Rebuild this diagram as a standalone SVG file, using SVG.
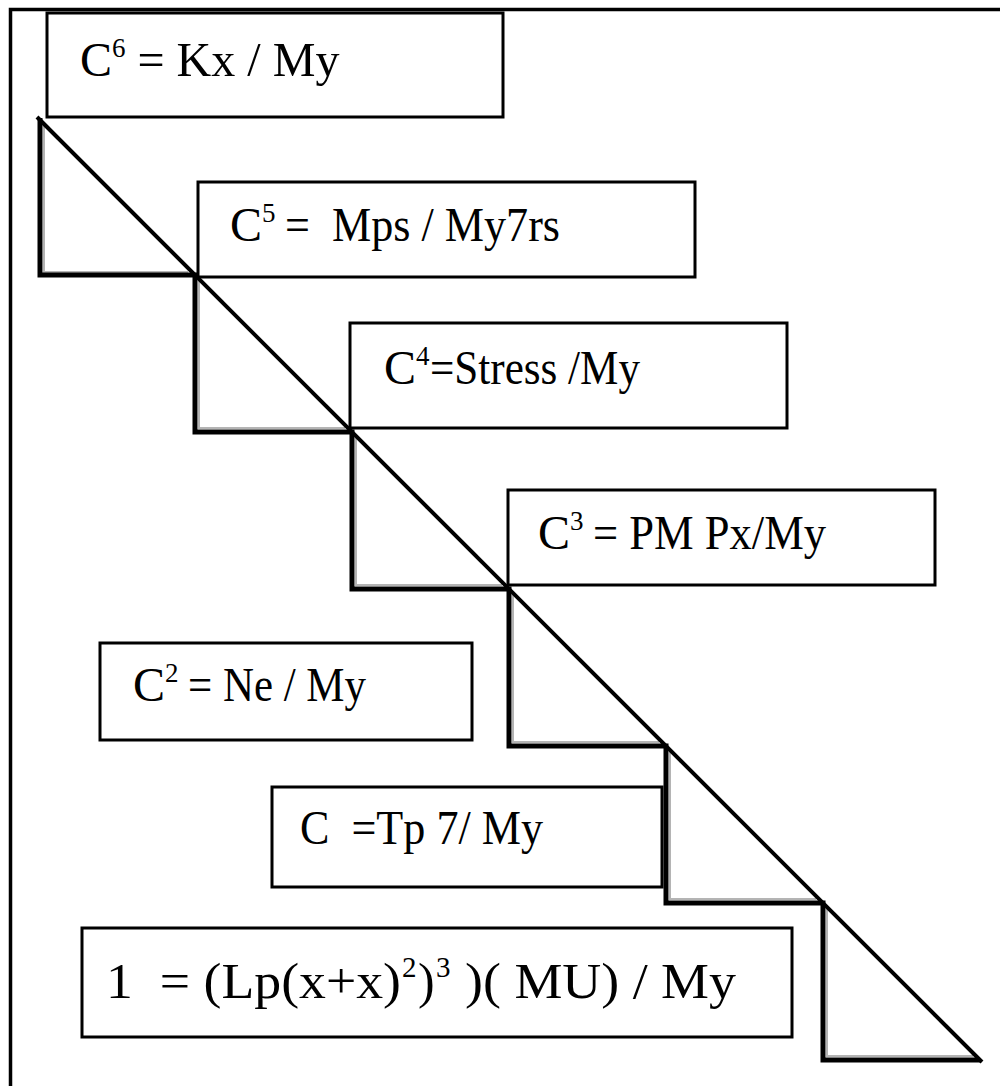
<svg xmlns="http://www.w3.org/2000/svg" width="1000" height="1086" viewBox="0 0 1000 1086">
<style>
.frame{fill:none;stroke:#000;stroke-width:3.5}
.box{fill:#fff;stroke:#000;stroke-width:3}
.stair{fill:none;stroke:#000;stroke-width:5;stroke-linejoin:miter}
.shade{fill:none;stroke:#b4b4b4;stroke-width:2}
.diag{stroke:#000;stroke-width:4}
.t{font-family:"Liberation Serif","Times New Roman",serif;font-size:48px;fill:#000}
.s{font-family:"Liberation Serif","Times New Roman",serif;font-size:27px;fill:#000}
.b{font-size:50px}
.bs{font-size:29px}
</style>
<rect x="0" y="0" width="1000" height="1086" fill="#fff"/>
<g id="frame">
<path class="frame" d="M10.5,1086 V9.5 H1000"/>
</g>
<g id="connectors">
<path class="shade" d="M44,124 V272 H188 M199,281 V428 H345 M356,438 V585 H502 M513,595 V742 H659 M670,752 V899 H816 M827,909 V1056 H973"/>
<path class="stair" d="M40,118 V275 H195 V432 H352 V589 H509 V746 H666 V903 H823 V1060 H980"/>
<line class="diag" x1="37" y1="117" x2="982" y2="1062"/>
</g>
<g id="node-c6">
<rect class="box" x="47" y="13" width="456" height="104"/>
<text class="t" x="80" y="76">C</text>
<text class="s" x="112" y="57">6</text>
<text class="t" x="137.5" y="76" textLength="202" lengthAdjust="spacingAndGlyphs">= Kx / My</text>
</g>
<g id="node-c5">
<rect class="box" x="198" y="182" width="497" height="95"/>
<text class="t" x="230" y="241">C</text>
<text class="s" x="262" y="222">5</text>
<text class="t" x="285" y="241" xml:space="preserve" textLength="275" lengthAdjust="spacingAndGlyphs">=  Mps / My7rs</text>
</g>
<g id="node-c4">
<rect class="box" x="350" y="323" width="437" height="105"/>
<text class="t" x="384" y="384">C</text>
<text class="s" x="416" y="365">4</text>
<text class="t" x="430" y="384" textLength="210" lengthAdjust="spacingAndGlyphs">=Stress /My</text>
</g>
<g id="node-c3">
<rect class="box" x="508" y="490" width="427" height="95"/>
<text class="t" x="538" y="549">C</text>
<text class="s" x="570" y="530">3</text>
<text class="t" x="593" y="549" textLength="233" lengthAdjust="spacingAndGlyphs">= PM Px/My</text>
</g>
<g id="node-c2">
<rect class="box" x="100" y="643" width="372" height="97"/>
<text class="t" x="133" y="701">C</text>
<text class="s" x="165" y="682">2</text>
<text class="t" x="188" y="701" textLength="178" lengthAdjust="spacingAndGlyphs">= Ne / My</text>
</g>
<g id="node-c1">
<rect class="box" x="272" y="787" width="390" height="100"/>
<text class="t" x="300" y="844" xml:space="preserve" textLength="243" lengthAdjust="spacingAndGlyphs">C  =Tp 7/ My</text>
</g>
<g id="node-one">
<rect class="box" x="82" y="928" width="710" height="109"/>
<text class="t b" x="106" y="998" xml:space="preserve" textLength="295" lengthAdjust="spacingAndGlyphs">1  = (Lp(x+x)</text>
<text class="s bs" x="402" y="977">2</text>
<text class="t b" x="418" y="998">)</text>
<text class="s bs" x="436" y="977">3</text>
<text class="t b" x="465" y="998" xml:space="preserve" textLength="271" lengthAdjust="spacingAndGlyphs">)( MU) / My</text>
</g>
</svg>
